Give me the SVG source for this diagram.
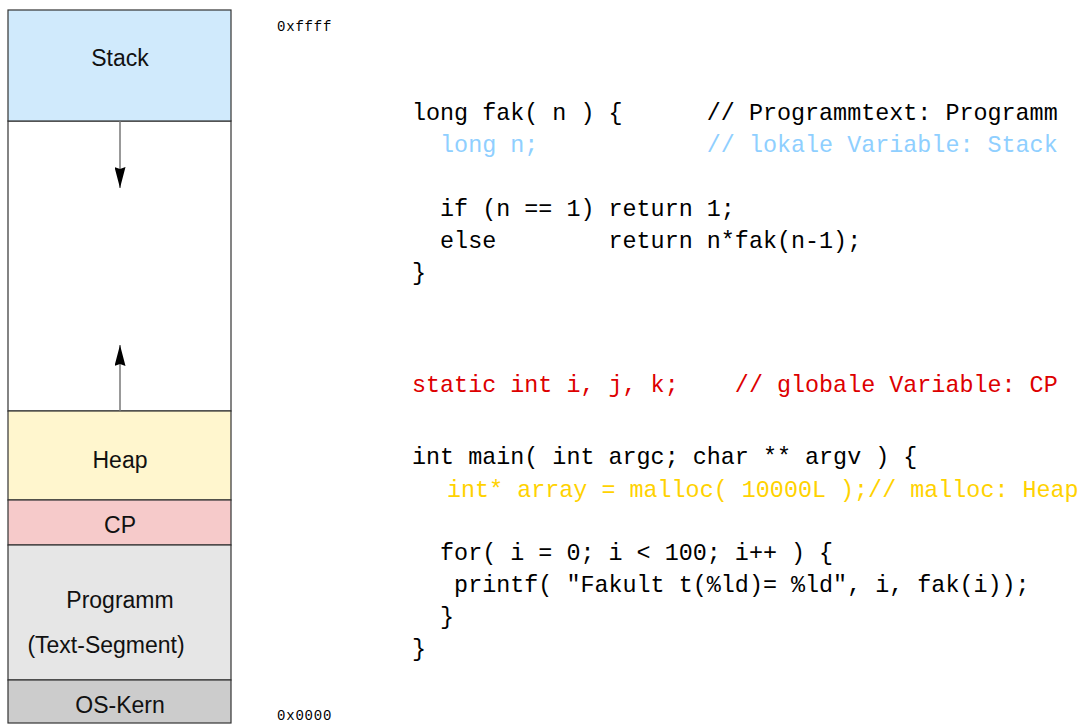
<svg xmlns="http://www.w3.org/2000/svg" width="1082" height="726" viewBox="0 0 1082 726">
<defs>
<marker id="ah" viewBox="0 0 21 11" refX="21" refY="5.5" markerWidth="21" markerHeight="11" markerUnits="userSpaceOnUse" orient="auto">
<path d="M0,0 L21,5.5 L0,11 L2,5.5 Z" fill="#000"/>
</marker>
</defs>
<style>
.seg{stroke:#333;stroke-width:1.2}
.lbl{font-family:"Liberation Sans","DejaVu Sans",sans-serif;font-size:23px;fill:#111;text-anchor:middle}
.code{font-family:"Liberation Mono","DejaVu Sans Mono",monospace;font-size:23.4px;fill:#000;white-space:pre}
.addr{font-family:"Liberation Mono","DejaVu Sans Mono",monospace;font-size:14px;letter-spacing:0.8px;fill:#000}
.conn{stroke:#777;stroke-width:1.5;fill:none}
</style>
<rect width="1082" height="726" fill="#fff"/>
<g id="free"><rect x="8" y="121" width="223" height="290" fill="#fff" class="seg"/></g>
<g id="stack"><rect x="8" y="10" width="223" height="111" fill="#D0EAFC" class="seg"/><text x="120" y="66" class="lbl">Stack</text></g>
<g id="heap"><rect x="8" y="411" width="223" height="89" fill="#FFF6CE" class="seg"/><text x="120" y="468" class="lbl">Heap</text></g>
<g id="cp"><rect x="8" y="500" width="223" height="45" fill="#F6CACA" class="seg"/><text x="120" y="533" class="lbl">CP</text></g>
<g id="programm"><rect x="8" y="545" width="223" height="135" fill="#E6E6E6" class="seg"/><text x="120" y="608" class="lbl">Programm</text><text x="106" y="653" class="lbl">(Text-Segment)</text></g>
<g id="oskern"><rect x="8" y="680" width="223" height="43" fill="#CCCCCC" class="seg"/><text x="120" y="713" class="lbl">OS-Kern</text></g>
<g id="connectors">
<line x1="120" y1="121" x2="120" y2="188" class="conn" marker-end="url(#ah)"/>
<line x1="120" y1="411" x2="120" y2="345" class="conn" marker-end="url(#ah)"/>
</g>
<g id="addresses">
<text x="277" y="31" class="addr">0xffff</text>
<text x="277" y="720" class="addr">0x0000</text>
</g>
<g id="code">
<text x="412" y="120" class="code">long fak( n ) {      // Programmtext: Programm</text>
<text x="412" y="152" class="code" style="fill:#8FCFFF">  long n;            // lokale Variable: Stack</text>
<text x="412" y="216" class="code">  if (n == 1) return 1;</text>
<text x="412" y="248" class="code">  else        return n*fak(n-1);</text>
<text x="412" y="280" class="code">}</text>
<text x="412" y="392" class="code" style="fill:#DD0000">static int i, j, k;    // globale Variable: CP</text>
<text x="412" y="464" class="code">int main( int argc; char ** argv ) {</text>
<text x="447" y="497" class="code" style="fill:#FFD200">int* array = malloc( 10000L );// malloc: Heap</text>
<text x="412" y="560" class="code">  for( i = 0; i &lt; 100; i++ ) {</text>
<text x="412" y="592" class="code">   printf( "Fakult t(%ld)= %ld", i, fak(i));</text>
<text x="412" y="624" class="code">  }</text>
<text x="412" y="656" class="code">}</text>
</g>
</svg>
